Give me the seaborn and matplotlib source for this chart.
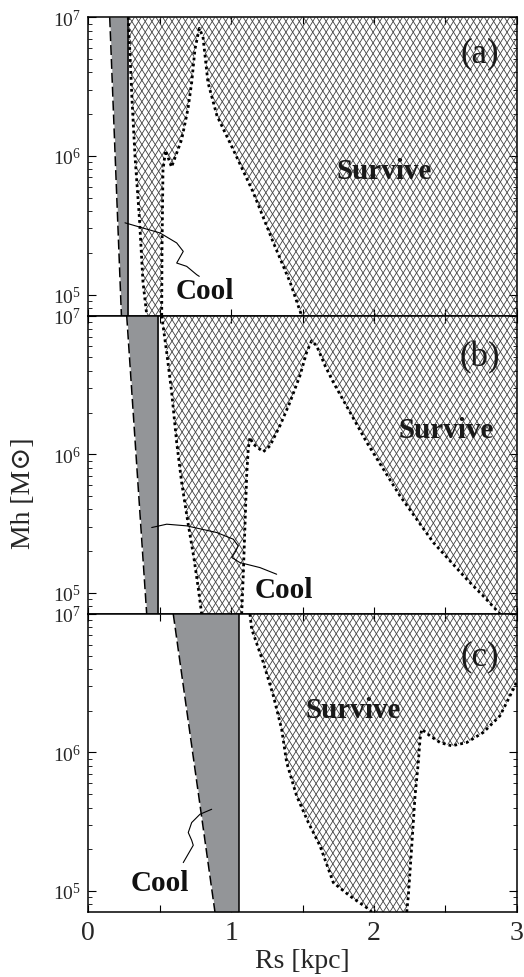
import numpy as np
import matplotlib
matplotlib.use("Agg")
import matplotlib.pyplot as plt
import seaborn as sns
import pandas as pd
from matplotlib.collections import LineCollection
from matplotlib.ticker import LogLocator, NullFormatter, FuncFormatter, MultipleLocator

# ---------------- data ----------------
XLIM = (0.0, 3.0)
YLIM = (7.05e4, 1.0e7)
panel_labels = ["(a)", "(b)", "(c)"]

# solid vertical line (Rs) per panel
solid_rs = [0.28, 0.49, 1.052]
# dashed line: Rs at top (logM=7) and at bottom (logM=4.848)
dashed_rs_top = [0.150, 0.269, 0.595]
dashed_rs_bot = [0.232, 0.409, 0.887]
dashed_logm = [7.0, 4.848]

# panel (a) dotted boundaries
a_c1_rs = [0.28, 0.306, 0.327, 0.358, 0.383, 0.41]
a_c1_lm = [7.0, 6.41, 6.0, 5.55, 5.09, 4.848]
a_c2_rs = [0.514, 0.516, 0.523, 0.541, 0.583, 0.654, 0.698, 0.724, 0.747, 0.777,
           0.803, 0.838, 0.901, 1.013, 1.154, 1.294, 1.413, 1.494]
a_c2_lm = [4.848, 5.32, 5.90, 6.04, 5.92, 6.12, 6.34, 6.53, 6.77, 6.92,
           6.86, 6.53, 6.29, 6.05, 5.74, 5.38, 5.09, 4.848]

# panel (b) dotted boundaries
b_c1_rs = [0.514, 0.549, 0.584, 0.619, 0.654, 0.699, 0.740, 0.768, 0.794]
b_c1_lm = [7.0, 6.735, 6.446, 6.085, 5.795, 5.500, 5.250, 5.050, 4.848]
b_c2_rs = [1.074, 1.085, 1.097, 1.109, 1.120, 1.132, 1.155, 1.225, 1.272, 1.342,
           1.412, 1.482, 1.529, 1.564, 1.599, 1.658, 1.716, 1.833, 1.950, 2.183,
           2.416, 2.650, 2.766, 2.883]
b_c2_lm = [4.848, 5.123, 5.484, 5.845, 6.038, 6.122, 6.074, 6.018, 6.061, 6.206,
           6.375, 6.567, 6.736, 6.819, 6.783, 6.639, 6.519, 6.303, 6.086, 5.700,
           5.364, 5.099, 4.978, 4.848]

# panel (c) dotted boundaries
c_c1_rs = [1.132, 1.144, 1.225, 1.296, 1.354, 1.389, 1.459, 1.541, 1.623, 1.716,
           1.833, 1.950, 1.985]
c_c1_lm = [7.0, 6.892, 6.651, 6.409, 6.168, 5.928, 5.686, 5.494, 5.325, 5.060,
           4.963, 4.879, 4.848]
c_c2_rs = [2.230, 2.241, 2.265, 2.288, 2.311, 2.323, 2.335, 2.393, 2.463, 2.545,
           2.650, 2.766, 2.883, 2.953, 3.0]
c_c2_lm = [4.848, 4.963, 5.325, 5.686, 5.928, 6.096, 6.168, 6.120, 6.072, 6.048,
           6.072, 6.145, 6.265, 6.409, 6.506]

# text annotations (Rs, logM)
cool_pos = [(0.817, 5.028), (1.370, 5.027), (0.502, 5.060)]
survive_pos = [(2.074, 5.896), (2.505, 6.180), (1.857, 6.313)]
label_pos = [(0.914, 0.882), (0.913, 0.863), (0.914, 0.860)]

# leader curves from "Cool" labels (Rs, logM)
lead_a_rs = [0.257, 0.502, 0.619, 0.665, 0.619, 0.689, 0.759, 0.777]
lead_a_lm = [5.518, 5.445, 5.373, 5.312, 5.228, 5.204, 5.144, 5.132]
lead_b_rs = [0.444, 0.549, 0.689, 0.899, 1.015, 1.050, 1.027, 1.004, 1.062, 1.202, 1.319]
lead_b_lm = [5.472, 5.496, 5.484, 5.436, 5.388, 5.339, 5.292, 5.256, 5.219, 5.183, 5.135]
lead_c_rs = [0.864, 0.782, 0.724, 0.700, 0.724, 0.735, 0.712, 0.665]
lead_c_lm = [5.590, 5.554, 5.494, 5.422, 5.366, 5.330, 5.289, 5.205]

# ---------------- style ----------------
sns.set_theme(style="ticks")
plt.rcParams["font.family"] = ["Liberation Serif", "DejaVu Serif"]
plt.rcParams["mathtext.fontset"] = "custom"
plt.rcParams["mathtext.rm"] = "Liberation Serif"
plt.rcParams["mathtext.it"] = "Liberation Serif:italic"
plt.rcParams["mathtext.bf"] = "Liberation Serif:bold"

GRAY = "#939598"
HATCH_COLOR = "#404040"

W_FIG, H_FIG, DPI = 5.24, 9.78, 100
fig = plt.figure(figsize=(W_FIG, H_FIG), dpi=DPI)

left_px, right_px = 88.3, 516.7
tops_px = [18.3, 316.7, 615.0]
bots_px = [316.7, 615.0, 913.0]


def add_crosshatch(ax, patch, w_px=6.7, h_px=10.7):
    bb = ax.get_position()
    W = bb.width * W_FIG * DPI
    H = bb.height * H_FIG * DPI
    s = h_px / w_px
    dx = H / s
    segs = []
    for k in range(int(-dx / w_px) - 2, int((W + dx) / w_px) + 3):
        x0 = k * w_px
        segs.append([(x0 / W, 0.0), ((x0 + dx) / W, 1.0)])
        segs.append([(x0 / W, 0.0), ((x0 - dx) / W, 1.0)])
    lc = LineCollection(segs, colors=HATCH_COLOR, linewidths=0.6,
                        transform=ax.transAxes, zorder=1)
    ax.add_collection(lc, autolim=False)
    lc.set_clip_path(patch)


def dotted(ax, rs, lm):
    df = pd.DataFrame({"Rs": rs, "M": 10 ** np.asarray(lm)})
    sns.lineplot(data=df, x="Rs", y="M", sort=False, estimator=None, ax=ax,
                 color="black", linewidth=2.0, zorder=4)
    ln = ax.lines[-1]
    ln.set_dashes([1.0, 1.15])
    ln.set_dash_capstyle("butt")


def leader(ax, rs, lm):
    df = pd.DataFrame({"Rs": rs, "M": 10 ** np.asarray(lm)})
    sns.lineplot(data=df, x="Rs", y="M", sort=False, estimator=None, ax=ax,
                 color="black", linewidth=0.8, zorder=6)


ymin_lm = np.log10(YLIM[0])
hatch_polys = []
# (a)
hatch_polys.append((
    [solid_rs[0], 3.0, 3.0] + a_c2_rs[::-1] + a_c1_rs[::-1],
    [7.0, 7.0, ymin_lm] + a_c2_lm[::-1] + a_c1_lm[::-1],
))
# (b)
hatch_polys.append((
    [b_c1_rs[0], 3.0, 3.0] + b_c2_rs[::-1] + b_c1_rs[::-1],
    [7.0, 7.0, ymin_lm] + b_c2_lm[::-1] + b_c1_lm[::-1],
))
# (c)
hatch_polys.append((
    c_c1_rs + c_c2_rs + [3.0],
    c_c1_lm + c_c2_lm + [7.0],
))

dotted_sets = [
    [(a_c1_rs, a_c1_lm), (a_c2_rs, a_c2_lm)],
    [(b_c1_rs, b_c1_lm), (b_c2_rs, b_c2_lm)],
    [(c_c1_rs, c_c1_lm), (c_c2_rs, c_c2_lm)],
]
leaders = [(lead_a_rs, lead_a_lm), (lead_b_rs, lead_b_lm), (lead_c_rs, lead_c_lm)]

axes = []
for i in range(3):
    ax = fig.add_axes([left_px / 524, 1 - bots_px[i] / 978,
                       (right_px - left_px) / 524, (bots_px[i] - tops_px[i]) / 978])
    axes.append(ax)
    ax.set_yscale("log")
    ax.set_xlim(*XLIM)
    ax.set_ylim(*YLIM)

    # hatched "Survive" region
    px, py = hatch_polys[i]
    poly = ax.fill(px, 10 ** np.asarray(py), facecolor="none", edgecolor="none", zorder=1)[0]
    add_crosshatch(ax, poly)

    # gray cooling band between dashed line and solid line
    ym = 10 ** np.asarray(dashed_logm)
    ax.fill_betweenx(ym, [dashed_rs_top[i], dashed_rs_bot[i]], [solid_rs[i], solid_rs[i]],
                     color=GRAY, linewidth=0, zorder=2)
    dfd = pd.DataFrame({"Rs": [dashed_rs_top[i], dashed_rs_bot[i]], "M": ym})
    sns.lineplot(data=dfd, x="Rs", y="M", sort=False, estimator=None, ax=ax,
                 color="black", linewidth=1.1, zorder=3)
    ax.lines[-1].set_dashes([6.5, 2.6])
    ax.axvline(solid_rs[i], color="black", linewidth=1.1, zorder=3)

    for rs, lm in dotted_sets[i]:
        dotted(ax, rs, lm)
    leader(ax, *leaders[i])

    ax.text(cool_pos[i][0], 10 ** cool_pos[i][1], "Cool", fontsize=21, fontweight="bold",
            ha="center", va="center", color="#111111", zorder=7)
    ax.text(survive_pos[i][0], 10 ** survive_pos[i][1], "Survive", fontsize=21,
            fontweight="bold", ha="center", va="center", color="#1a1a1a", zorder=7)
    ax.text(label_pos[i][0], label_pos[i][1], panel_labels[i], transform=ax.transAxes,
            fontsize=25, ha="center", va="center", color="#1a1a1a", zorder=7)

    ax.set_xlabel("")
    ax.set_ylabel("")
    ax.xaxis.set_major_locator(MultipleLocator(0.5))
    ax.xaxis.set_major_formatter(FuncFormatter(
        lambda v, p: f"{int(round(v))}" if abs(v - round(v)) < 1e-6 else ""))
    ax.yaxis.set_major_locator(LogLocator(base=10, numticks=10))
    ax.yaxis.set_minor_locator(LogLocator(base=10, subs=np.arange(2, 10), numticks=20))
    ax.yaxis.set_minor_formatter(NullFormatter())
    ax.yaxis.set_major_formatter(FuncFormatter(
        lambda v, p: r"$\mathregular{10^{%d}}$" % int(round(np.log10(v)))))
    ax.tick_params(axis="both", which="both", direction="in", top=True, right=True,
                   color="black")
    ax.tick_params(axis="x", which="major", length=5, width=0.8, labelsize=20, pad=6)
    ax.tick_params(axis="y", which="major", length=6, width=0.8, labelsize=14, pad=5)
    ax.tick_params(axis="y", which="minor", length=3, width=0.6)
    if i < 2:
        ax.tick_params(axis="x", labelbottom=False)
    for sp in ax.spines.values():
        sp.set_linewidth(1.1)
        sp.set_color("black")
        sp.set_zorder(8)

axes[2].set_xlabel("Rs [kpc]", fontsize=20, labelpad=2)
fig.text(24 / 524, 1 - 493 / 978, "Mh [M\u2299]", rotation=90, fontsize=20,
         ha="center", va="center", family=["Liberation Serif", "DejaVu Serif"])

fig.savefig("out.png", dpi=DPI)
